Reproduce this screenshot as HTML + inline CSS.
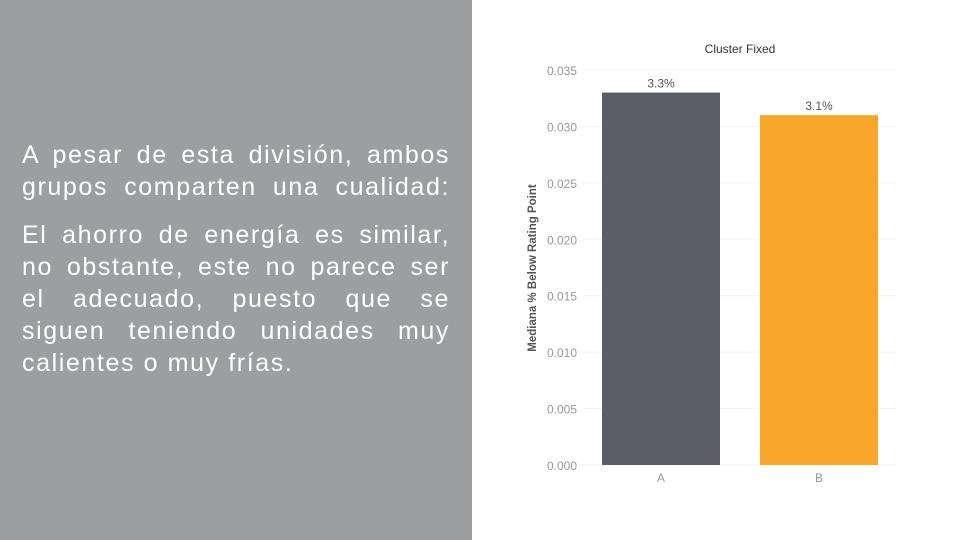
<!DOCTYPE html>
<html><head><meta charset="utf-8"><style>
body{margin:0;width:960px;height:540px;overflow:hidden;background:#fff;font-family:"Liberation Sans",sans-serif;position:relative}
#left{position:absolute;left:0;top:0;width:472px;height:540px;background:#9d9ea0}
.l{position:absolute;left:22px;width:428px;color:#fff;font-size:25px;line-height:32px;height:32px;text-align:justify;text-align-last:justify;white-space:nowrap;letter-spacing:1.6px}
.l.last{text-align-last:left}
svg{position:absolute;left:0;top:0}
</style></head><body>
<div id="left">
<div>
<div class="l" style="top:139px">A pesar de esta división, ambos</div>
<div class="l" style="top:171px">grupos comparten una cualidad:</div>
</div>
<div>
<div class="l" style="top:219px">El ahorro de energía es similar,</div>
<div class="l" style="top:251px">no obstante, este no parece ser</div>
<div class="l" style="top:283px">el adecuado, puesto que se</div>
<div class="l" style="top:315px">siguen teniendo unidades muy</div>
<div class="l last" style="top:347px">calientes o muy frías.</div>
</div>
</div>
<svg id="chart" width="960" height="540"></svg>
<script>
const categories=["A","B"];
const values=[0.0330,0.0310];
const valueLabels=["3.3%","3.1%"];
const ticks=[0,0.005,0.010,0.015,0.020,0.025,0.030,0.035];
const colors=["#5b5e66","#f8a72b"];
const svg=document.getElementById('chart');
const NS="http://www.w3.org/2000/svg";
const y0=465,y1=70,vmax=0.035;
const yScale=v=>y0-(v/vmax)*(y0-y1);
const left=582,right=897,bw=118;
const xCenter=i=>661+i*158;
function mk(t,a){const e=document.createElementNS(NS,t);for(const k in a)e.setAttribute(k,a[k]);svg.appendChild(e);return e;}
let t=mk('text',{x:740,y:53,'text-anchor':'middle','font-size':12,fill:'#333'});t.textContent='Cluster Fixed';


ticks.forEach(v=>{
 const y=yScale(v);
 const g=mk('line',{x1:left,x2:right,y1:y,y2:y,stroke:'#f3f3f3','stroke-width':1});
 
 
 const l=mk('text',{x:577,y:y+5,'text-anchor':'end','font-size':12,fill:'#999'});l.textContent=v.toFixed(3);
 
 
});
const yt=mk('text',{transform:'translate(536,268) rotate(-90)','text-anchor':'middle','font-size':11.5,'font-weight':'bold',fill:'#555'});yt.textContent='Mediana % Below Rating Point';


categories.forEach((c,i)=>{
 const x=xCenter(i)-bw/2,y=yScale(values[i]);
 const r=mk('rect',{x:x,y:y,width:bw,height:y0-y,fill:colors[i]});
 
 
 const vl=mk('text',{x:xCenter(i),y:y-5,'text-anchor':'middle','font-size':12,fill:'#555'});vl.textContent=valueLabels[i];
 
 
 const xl=mk('text',{x:xCenter(i),y:482,'text-anchor':'middle','font-size':12,fill:'#999'});xl.textContent=c;
 
 
});
</script>
</body></html>
